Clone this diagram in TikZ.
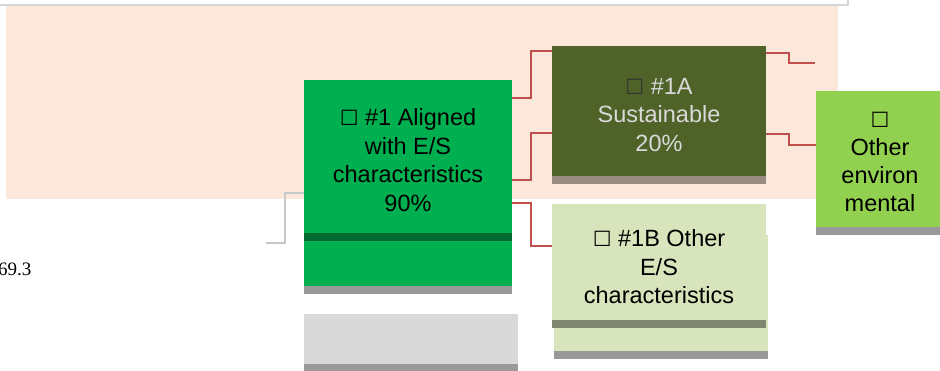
\documentclass[tikz,border=0pt]{standalone}
\usepackage{fontspec}
\setmainfont{Liberation Sans}
\newfontfamily\symfont{DejaVu Sans}
\newfontfamily\timesfont{Liberation Serif}
\definecolor{peach}{HTML}{FCE8DA}
\definecolor{greenA}{HTML}{00B050}
\definecolor{greenDark}{HTML}{006A30}
\definecolor{olive}{HTML}{4F6228}
\definecolor{oliveBar}{HTML}{9A8C83}
\definecolor{lime}{HTML}{92D050}
\definecolor{sage}{HTML}{D8E4BC}
\definecolor{sageBar}{HTML}{7F8670}
\definecolor{barGrey}{HTML}{999999}
\definecolor{lightGrey}{HTML}{D9D9D9}
\definecolor{conRed}{HTML}{C0504D}
\definecolor{conGrey}{HTML}{C8C8C8}
\definecolor{borderGrey}{HTML}{D6D6D6}
\newcommand{\cbox}{{\symfont\fontsize{21}{28}\selectfont ☐}}
\tikzset{
  boxtext/.style={align=center, font=\fontsize{23.5}{28.5}\selectfont, inner sep=0pt},
  redcon/.style={draw=conRed, line width=1.6pt},
  greycon/.style={draw=conGrey, line width=2pt},
}
\begin{document}
\begin{tikzpicture}[x=1pt,y=-1pt]
\useasboundingbox (0,0) rectangle (940,371);
% top border
\draw[borderGrey, line width=2pt] (0,5) -- (848,5) -- (848,0);
% peach area
\fill[peach] (6,6) rectangle (838,199);
% grey connector
\coordinate (gEnd) at (266,243);
% green box #1
\fill[greenA] (304,80) rectangle (512,286);
\fill[greenDark] (304,233) rectangle (512,241);
\fill[barGrey] (304,286) rectangle (512,294);
\node[boxtext] (n1) at (408,160) {\cbox\ \#1 Aligned\\with E/S\\characteristics\\90\%};
\coordinate (n1w) at (304,193);
% grey box below
\fill[lightGrey] (304,314) rectangle (518,364);
\fill[barGrey] (304,364) rectangle (518,371);
% olive box #1A
\fill[olive] (552,46) rectangle (766,176);
\fill[oliveBar] (552,176) rectangle (766,184);
\node[boxtext, text=lightGrey] (n1a) at (659,115) {{\color{black!80}\cbox}\ \#1A\\Sustainable\\20\%};
% sage box #1B
\fill[sage] (552,204) rectangle (766,320);
\fill[sage] (554,235) rectangle (768,351);
\fill[sageBar] (552,320) rectangle (766,328);
\fill[barGrey] (554,351) rectangle (768,359);
\node[boxtext] (n1b) at (659,267) {\cbox\ \#1B Other\\E/S\\characteristics};
% lime box
\fill[lime] (816,91) rectangle (940,227);
\fill[barGrey] (816,227) rectangle (940,235);
\node[boxtext, font=\fontsize{23.5}{28}\selectfont] (oe) at (880,162) {\cbox\\Other\\environ\\mental};
% connectors
\coordinate (a1) at (512,98);  \coordinate (b1) at (552,51);
\coordinate (a2) at (512,180); \coordinate (b2) at (552,133);
\coordinate (a3) at (512,203); \coordinate (b3) at (552,246);
\coordinate (c1) at (766,53);  \coordinate (d1) at (815,63);
\coordinate (c2) at (766,134); \coordinate (d2) at (816,145);
\draw[redcon] (a1) -- (531,98) -- (531,51) -- (b1);
\draw[redcon] (a2) -- (531,180) -- (531,133) -- (b2);
\draw[redcon] (a3) -- (531,203) -- (531,246) -- (b3);
\draw[redcon] (c1) -- (789,53) -- (789,63) -- (d1);
\draw[redcon] (c2) -- (789,134) -- (789,145) -- (d2);
\draw[greycon] (gEnd) -- (285,243) -- (285,193) -- (n1w);
% label 69.3
\node[anchor=base west, inner sep=0pt, font=\timesfont\fontsize{19}{22}\selectfont] (lbl) at (-2,276) {69.3};
\end{tikzpicture}
\end{document}
